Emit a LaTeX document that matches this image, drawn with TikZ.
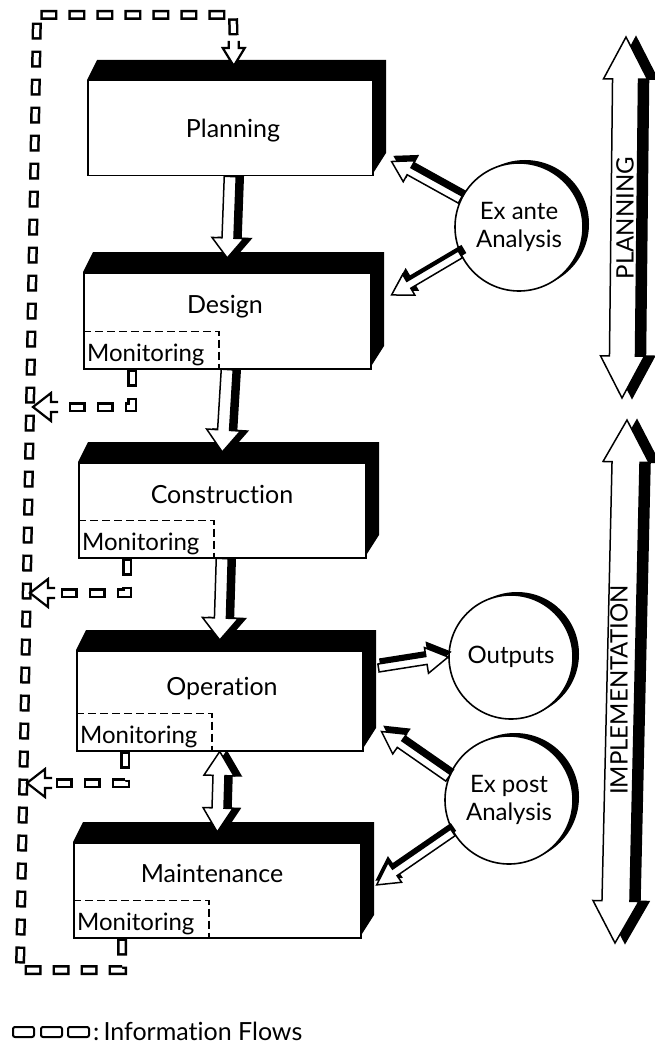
\documentclass[tikz,border=0pt]{standalone}
\usepackage{fontspec}
\setmainfont{Lato}[Ligatures={NoCommon}]
\usetikzlibrary{calc}

\tikzset{
  face/.style={draw, fill=white, line width=1.5pt, inner sep=0pt},
  lbl/.style={font=\fontsize{25}{30}\selectfont, inner sep=0pt, anchor=base},
  monlbl/.style={font=\fontsize{24}{28}\selectfont, inner sep=0pt, anchor=base west},
  mondash/.style={line width=1.7pt, dash pattern=on 8pt off 4pt},
  bubble/.style={circle, draw, fill=white, line width=1.6pt, inner sep=0pt, minimum size=128pt, align=center, font=\fontsize{24}{28}\selectfont},
  arrowface/.style={draw=black, fill=white, line width=1.5pt, line join=miter},
  shadowfill/.style={draw=black, fill=black, line width=1.5pt, line join=miter},
  phaselbl/.style={font=\fontsize{24}{28}\selectfont, rotate=90, inner sep=0pt},
  chain/.style={draw=white, line width=5pt, dash pattern=on 12pt off 16pt, dash phase=25.5pt, line join=miter,
    preaction={draw=black, line width=10pt, dash pattern=on 17pt off 11pt, dash phase=0pt}},
}

% 3D stage box
\newcommand\stage[5]{%
  \fill[black] (#2,#3) -- ++(10,-20) -- (#4+14,#3-20) -- (#4+14,#5-22) -- (#4,#5) -- cycle;
  \node[face, minimum width={(#4-#2)*1pt}, minimum height={(#5-#3)*1pt}, anchor=north west] (#1) at (#2,#3) {};
}
% monitoring sub box
\newcommand\monitor[2]{%
  \draw[mondash] ($(#2.south west)+(0,-38)$) -| ($(#2.south west)+(136,0)$);
  \node[monlbl] (#1) at ($(#2.south west)+(4,-8)$) {Monitoring};
}
% block arrow with shadow: from, to, w, h, hl, shx, shy, double
\newcommand\blockarrow[8]{%
  \path (#1); \pgfgetlastxy\bax\bay
  \path (#2); \pgfgetlastxy\bbx\bby
  \pgfmathsetmacro\baang{atan2((\bby)-(\bay),(\bbx)-(\bax))}
  \pgfmathsetmacro\balen{veclen((\bbx)-(\bax),(\bby)-(\bay))}
  \foreach \sty/\dx/\dy in {shadowfill/#6/#7, arrowface/0pt/0pt} {
    \begin{scope}[shift={(\bax+\dx,\bay+\dy)}, rotate=\baang, x=1pt, y=1pt]
      \ifnum#8=0
        \path[\sty] (0,-#3) -- (\balen-#5,-#3) -- (\balen-#5,-#4) -- (\balen,0) -- (\balen-#5,#4) -- (\balen-#5,#3) -- (0,#3) -- cycle;
      \else
        \path[\sty] (0,0) -- (#5,#4) -- (#5,#3) -- (\balen-#5,#3) -- (\balen-#5,#4) -- (\balen,0) -- (\balen-#5,-#4) -- (\balen-#5,-#3) -- (#5,-#3) -- (#5,-#4) -- cycle;
      \fi
    \end{scope}
  }
}
% hollow head of an information flow
\newcommand\infohead[3]{%
  \path (#1); \pgfgetlastxy\iax\iay
  \begin{scope}[shift={(\iax,\iay)}, rotate=#2, x=1pt, y=1pt]
    \fill[white] (0,0) -- (-18,#3) -- (-18,5) -- (-25,5) -- (-25,-5) -- (-18,-5) -- (-18,-#3) -- cycle;
    \draw[line width=2.2pt, line join=miter] (-25,5) -- (-18,5) -- (-18,#3) -- (0,0) -- (-18,-#3) -- (-18,-5) -- (-25,-5);
  \end{scope}
}

\begin{document}
\begin{tikzpicture}[x=1pt,y=-1pt]
\fill[white] (0,0) rectangle (654,1051);
\useasboundingbox (0,0) rectangle (654,1051);

% stages
\stage{planning}{87}{80}{372}{175}
\stage{design}{83}{272}{370}{368}
\stage{construction}{78}{462}{365}{557}
\stage{operation}{76}{650}{362}{750}
\stage{maintenance}{73}{842}{360}{937}

\node[lbl] (tplanning) at (233,138) {Planning};
\node[lbl] (tdesign) at (225,313) {Design};
\node[lbl] (tconstruction) at (222,503) {Construction};
\node[lbl] (toperation) at (222,695) {Operation};
\node[lbl] (tmaintenance) at (212,882) {Maintenance};

\monitor{mdesign}{design}
\monitor{mconstruction}{construction}
\monitor{moperation}{operation}
\monitor{mmaintenance}{maintenance}

% circles
\fill[black] (525,224) circle (64pt);
\node[bubble] (exante) at (519,227) {Ex ante\\Analysis};
\fill[black] (517,654) circle (62pt);
\node[bubble, minimum size=124pt] (outputs) at (511,657) {Outputs};
\fill[black] (515,797) circle (64pt);
\node[bubble] (expost) at (509,800) {Ex post\\Analysis};

% flow arrows between stages
\blockarrow{planning.south}{$(design.north)+(0,-14)$}{6}{16}{20}{7pt}{0pt}{0}
\blockarrow{design.south}{$(construction.north)+(0,-10)$}{6}{17}{22}{7pt}{0pt}{0}
\blockarrow{construction.south}{$(operation.north)+(0,-10)$}{6}{18}{22}{7pt}{0pt}{0}
\blockarrow{operation.south}{$(maintenance.north)+(0,-10)$}{6}{15}{24}{7pt}{0pt}{1}

% arrows from / to circles
\blockarrow{exante.155}{$(planning.south east)+(18,-15)$}{4}{12}{20}{3pt}{5pt}{0}
\blockarrow{exante.205}{$(design.north east)+(20,23)$}{4}{12}{20}{3pt}{5pt}{0}
\blockarrow{$(operation.north east)+(15,18)$}{outputs.west}{4}{13}{22}{2pt}{5pt}{0}
\blockarrow{expost.160}{$(operation.south east)+(18,-20)$}{4}{12}{22}{3pt}{5pt}{0}
\blockarrow{expost.210}{$(maintenance.north east)+(15,43)$}{4}{12}{22}{0pt}{5pt}{0}

% phase arrows
\coordinate (pT) at (626,37);
\coordinate (pB) at (622,398);
\coordinate (iT) at (627,420);
\coordinate (iB) at (615,943);
\blockarrow{pB}{pT}{13}{22}{42}{10pt}{0pt}{1}
\blockarrow{iB}{iT}{14}{23}{42}{10pt}{0pt}{1}
\node[phaselbl] (lplanning) at (625,218) {PLANNING};
\node[phaselbl] (limpl) at (619,690) {IMPLEMENTATION};

% information flows
\coordinate (m4) at ($(maintenance.south west)+(49,0)$);
\coordinate (cbl) at (20,970);
\coordinate (ctl) at (37,15);
\coordinate (ctr) at (233,15);
\coordinate (pin) at ($(planning.north)+(3.5,-14)$);
\draw[chain] (m4) |- (cbl) -- (ctl) -- (ctr) -- ($(pin)+(0,-22)$);
\infohead{pin}{-90}{11}

\coordinate (d4) at ($(design.south west)+(49,0)$);
\coordinate (dt) at (33,407);
\draw[chain] (d4) |- ($(dt)+(24,0)$);
\infohead{dt}{180}{14}

\coordinate (c4) at ($(construction.south west)+(49,0)$);
\coordinate (ct) at (30,593);
\draw[chain] (c4) |- ($(ct)+(24,0)$);
\infohead{ct}{180}{14}

\coordinate (o4) at ($(operation.south west)+(49,0)$);
\coordinate (ot) at (27,783);
\draw[chain] (o4) |- ($(ot)+(24,0)$);
\infohead{ot}{180}{14}

% legend
\foreach \lx in {13,41,68}
  \draw[line width=2pt, rounded corners=2pt] (\lx,1027) rectangle ++(21,10);
\node[lbl, anchor=base west] (legend) at (93,1040) {:\,Information Flows};
\end{tikzpicture}
\end{document}
